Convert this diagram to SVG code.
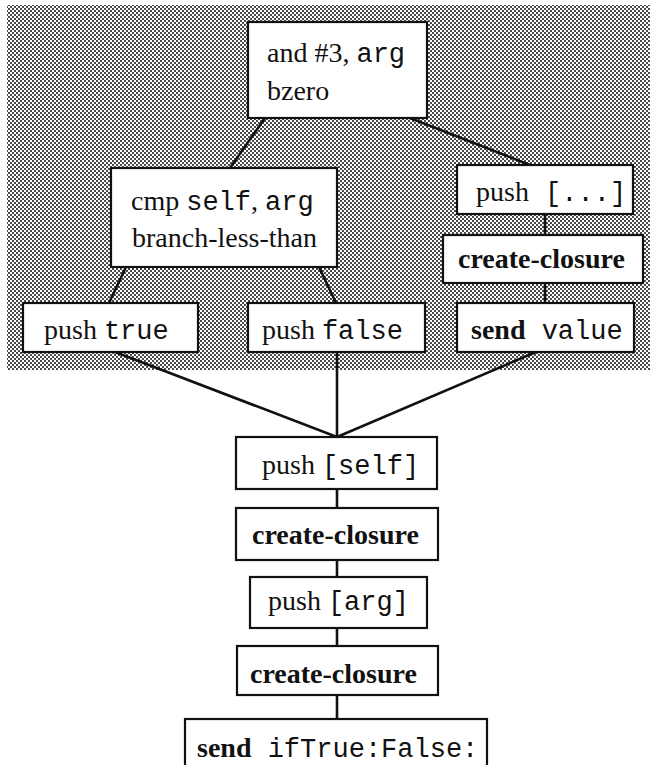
<svg xmlns="http://www.w3.org/2000/svg" width="650" height="765" viewBox="0 0 650 765">
<defs>
<pattern id="dots" width="4" height="4" patternUnits="userSpaceOnUse">
<rect width="4" height="4" fill="#ffffff"/>
<rect x="0" y="0" width="2" height="2" fill="#4a4a4a"/>
<rect x="2" y="2" width="2" height="2" fill="#4a4a4a"/>
</pattern>
</defs>
<style>
.box{fill:#fff;stroke:#111;stroke-width:2.2}
.t{font-family:"Liberation Serif","Times New Roman",serif;font-size:28px;fill:#111}
.b{font-weight:bold}
.m{font-family:"Liberation Mono","Courier New",monospace;font-size:27px}
.c{stroke:#111;stroke-width:2.6;fill:none}
</style>
<rect x="7" y="5" width="643" height="365" fill="url(#dots)"/>
<g id="connectors">
<line class="c" x1="265" y1="118" x2="230" y2="168"/>
<line class="c" x1="410" y1="118" x2="530" y2="165"/>
<line class="c" x1="126" y1="267" x2="109" y2="303"/>
<line class="c" x1="319" y1="267" x2="336" y2="303"/>
<line class="c" x1="545" y1="214" x2="545" y2="235"/>
<line class="c" x1="545" y1="283" x2="545" y2="303"/>
<line class="c" x1="115" y1="352" x2="337" y2="437"/>
<line class="c" x1="337" y1="352" x2="337" y2="437"/>
<line class="c" x1="536" y1="352" x2="337" y2="437"/>
<line class="c" x1="337" y1="489" x2="337" y2="508"/>
<line class="c" x1="337" y1="560" x2="337" y2="577"/>
<line class="c" x1="337" y1="628" x2="337" y2="646"/>
<line class="c" x1="337" y1="695" x2="337" y2="719"/>
</g>
<g id="and-bzero">
<rect class="box" x="248" y="22" width="179" height="96"/>
<text class="t" x="267" y="62">and #3, <tspan class="m">arg</tspan></text>
<text class="t" x="267" y="100">bzero</text>
</g>
<g id="cmp">
<rect class="box" x="111" y="168" width="226" height="99"/>
<text class="t" x="131" y="210">cmp <tspan class="m">self</tspan>, <tspan class="m">arg</tspan></text>
<text class="t" x="132" y="247">branch-less-than</text>
</g>
<g id="push-block">
<rect class="box" x="457" y="165" width="176" height="49"/>
<text class="t" x="476" y="201">push<tspan class="m"> [...]</tspan></text>
</g>
<g id="create-closure-1">
<rect class="box" x="443" y="235" width="200" height="48"/>
<text class="t b" x="458" y="268">create-closure</text>
</g>
<g id="send-value">
<rect class="box" x="457" y="303" width="177" height="49"/>
<text class="t" x="471" y="339"><tspan class="b">send</tspan><tspan class="m"> value</tspan></text>
</g>
<g id="push-true">
<rect class="box" x="23" y="303" width="175" height="49"/>
<text class="t" x="44" y="339">push <tspan class="m">true</tspan></text>
</g>
<g id="push-false">
<rect class="box" x="248" y="303" width="177" height="49"/>
<text class="t" x="262" y="339">push <tspan class="m">false</tspan></text>
</g>
<g id="push-self">
<rect class="box" x="236" y="437" width="201" height="52"/>
<text class="t" x="262" y="474">push <tspan class="m">[self]</tspan></text>
</g>
<g id="create-closure-2">
<rect class="box" x="236" y="508" width="202" height="52"/>
<text class="t b" x="252" y="544">create-closure</text>
</g>
<g id="push-arg">
<rect class="box" x="250" y="577" width="177" height="51"/>
<text class="t" x="268" y="610">push <tspan class="m">[arg]</tspan></text>
</g>
<g id="create-closure-3">
<rect class="box" x="237" y="646" width="201" height="49"/>
<text class="t b" x="250" y="683">create-closure</text>
</g>
<g id="send-iftrue">
<rect class="box" x="185" y="719" width="302" height="60"/>
<text class="t" x="197" y="757"><tspan class="b">send</tspan><tspan class="m"> ifTrue:False:</tspan></text>
</g>
</svg>
